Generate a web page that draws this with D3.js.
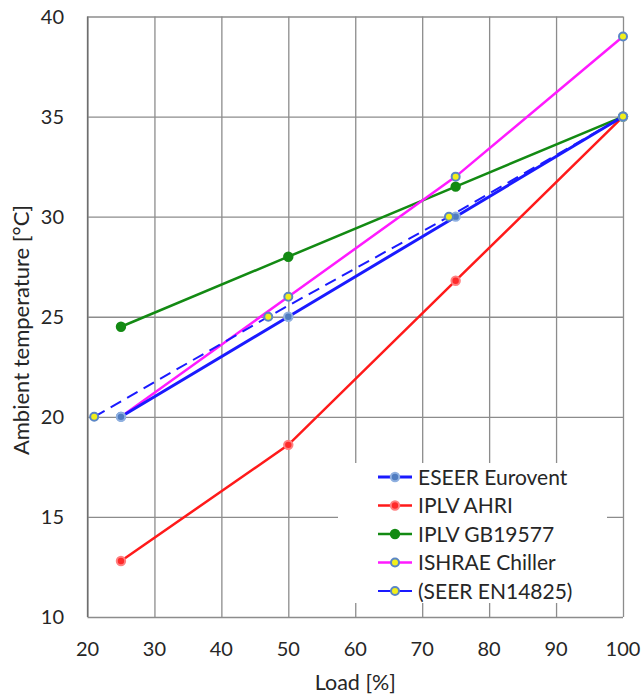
<!DOCTYPE html>
<html>
<head>
<meta charset="utf-8">
<script src="https://cdn.jsdelivr.net/npm/d3@7"></script>
<style>
  body { margin: 0; background: #fff; }
  text { font-family: Lato, "Open Sans", sans-serif; fill: #262626; }
</style>
</head>
<body>
<svg id="chart" width="642" height="695"></svg>
<script>
var xTicks = [20, 30, 40, 50, 60, 70, 80, 90, 100]
var yTicks = [10, 15, 20, 25, 30, 35, 40]

var eseerLoad = [25, 50, 75, 100]
var eseerTemp = [20, 25, 30, 35]
var ahriLoad = [25, 50, 75, 100]
var ahriTemp = [12.8, 18.6, 26.8, 35]
var gbLoad = [25, 50, 75, 100]
var gbTemp = [24.5, 28, 31.5, 35]
var ishraeLoad = [25, 50, 75, 100]
var ishraeTemp = [20, 26, 32, 39]
var seerLoad = [21, 47, 74, 100]
var seerTemp = [20, 25, 30, 35]

var seriesNames = ['ESEER Eurovent', 'IPLV AHRI', 'IPLV GB19577', 'ISHRAE Chiller', '(SEER EN14825)']

function zip (xs, ys) {
  return xs.map(function (x, i) { return { x: x, y: ys[i] } })
}

var series = [
  { name: seriesNames[0], pts: zip(eseerLoad, eseerTemp), color: '#1a1aff', width: 3, dash: null, mFill: '#4f7cc0', mStroke: '#8fb0e0', r: 4.2 },
  { name: seriesNames[1], pts: zip(ahriLoad, ahriTemp), color: '#ff1a1a', width: 2.5, dash: null, mFill: '#ff2a2a', mStroke: '#ff8080', r: 4.2 },
  { name: seriesNames[2], pts: zip(gbLoad, gbTemp), color: '#138a13', width: 2.5, dash: null, mFill: '#138a13', mStroke: '#138a13', r: 4.2 },
  { name: seriesNames[3], pts: zip(ishraeLoad, ishraeTemp), color: '#ff1aff', width: 2.5, dash: null, mFill: '#f2ef1a', mStroke: '#5a86c6', r: 4 },
  { name: seriesNames[4], pts: zip(seerLoad, seerTemp), color: '#1a1aff', width: 2, dash: '12,7', mFill: '#f2ef1a', mStroke: '#5a86c6', r: 4 }
]

var svg = d3.select('#chart')
var plotL = 87.5, plotR = 623, plotT = 16.5, plotB = 617

var x = d3.scaleLinear().domain([20, 100]).range([plotL, plotR])
var y = d3.scaleLinear().domain([10, 40]).range([plotB, plotT])

// grid
svg.append('g')
  .attr('transform', 'translate(0,' + plotB + ')')
  .call(d3.axisBottom(x).tickValues(xTicks).tickSize(-(plotB - plotT)).tickFormat(''))
  .call(function (g) {
    g.select('.domain').remove()
    g.selectAll('line').attr('stroke', '#8c8c8c').attr('stroke-width', 1.3)
  })

svg.append('g')
  .attr('transform', 'translate(' + plotL + ',0)')
  .call(d3.axisLeft(y).tickValues(yTicks).tickSize(-(plotR - plotL)).tickFormat(''))
  .call(function (g) {
    g.select('.domain').remove()
    g.selectAll('line').attr('stroke', '#8c8c8c').attr('stroke-width', 1.3)
  })

// left axis line
svg.append('line')
  .attr('x1', plotL).attr('x2', plotL).attr('y1', plotT).attr('y2', plotB)
  .attr('stroke', '#6e6e6e').attr('stroke-width', 1.3)

// tick labels
svg.append('g').selectAll('text')
  .data(xTicks).join('text')
  .attr('x', function (d) { return x(d) })
  .attr('y', 656)
  .attr('text-anchor', 'middle')
  .attr('font-size', 20)
  .text(function (d) { return d })

svg.append('g').selectAll('text')
  .data(yTicks).join('text')
  .attr('x', 64)
  .attr('y', function (d) { return y(d) + 7 })
  .attr('text-anchor', 'end')
  .attr('font-size', 20)
  .text(function (d) { return d })

svg.append('text')
  .attr('x', (plotL + plotR) / 2)
  .attr('y', 690)
  .attr('text-anchor', 'middle')
  .attr('font-size', 21.5)
  .text('Load [%]')

svg.append('text')
  .attr('transform', 'translate(29,330) rotate(-90)')
  .attr('text-anchor', 'middle')
  .attr('font-size', 22)
  .text('Ambient temperature [°C]')

// legend background
svg.append('rect')
  .attr('x', 338).attr('y', 463).attr('width', 269).attr('height', 140)
  .attr('fill', '#fff')

var line = d3.line().x(function (d) { return x(d.x) }).y(function (d) { return y(d.y) })

var order = [1, 2, 3, 0, 4]
order.forEach(function (i) {
  var s = series[i]
  svg.append('path')
    .datum(s.pts)
    .attr('d', line)
    .attr('fill', 'none')
    .attr('stroke', s.color)
    .attr('stroke-width', s.width)
    .attr('stroke-dasharray', s.dash)
})
order.forEach(function (i) {
  var s = series[i]
  svg.append('g').selectAll('circle')
    .data(s.pts).join('circle')
    .attr('cx', function (d) { return x(d.x) })
    .attr('cy', function (d) { return y(d.y) })
    .attr('r', s.r)
    .attr('fill', s.mFill)
    .attr('stroke', s.mStroke)
    .attr('stroke-width', 2)
})

// legend
var lg = svg.append('g').attr('transform', 'translate(378,477)')
series.forEach(function (s, i) {
  var row = lg.append('g').attr('transform', 'translate(0,' + (i * 28.5) + ')')
  row.append('line')
    .attr('x1', 0).attr('x2', 34).attr('y1', 0).attr('y2', 0)
    .attr('stroke', s.color).attr('stroke-width', s.width)
  row.append('circle')
    .attr('cx', 17).attr('cy', 0).attr('r', s.r)
    .attr('fill', s.mFill).attr('stroke', s.mStroke).attr('stroke-width', 2)
  row.append('text')
    .attr('x', 40).attr('y', 7.5)
    .attr('font-size', 21)
    .text(s.name)
})
</script>
</body>
</html>
